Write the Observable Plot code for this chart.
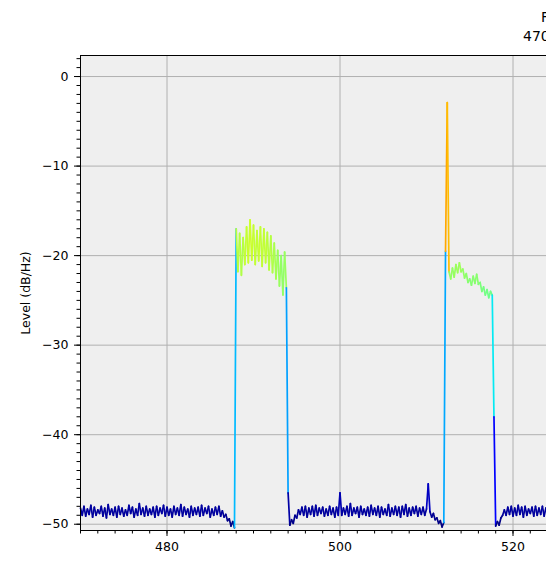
<!DOCTYPE html>
<html><head><meta charset="utf-8">
<script src="https://cdn.jsdelivr.net/npm/d3@7"></script>
<script src="https://cdn.jsdelivr.net/npm/@observablehq/plot@0.6"></script>
<style>
html,body{margin:0;padding:0;background:#fff;overflow:hidden;width:546px;height:564px;}
#wrap{position:relative;width:546px;height:564px;overflow:hidden;font-family:"DejaVu Sans",sans-serif;}
.t{position:absolute;font-size:14px;white-space:nowrap;color:#000;line-height:17px;}
#chart{position:absolute;left:0;top:0;width:800px;height:564px;}
#chart svg{max-width:none !important;}
</style></head><body>
<div id="wrap">
<div id="chart"></div>
<div class="t" id="t1" style="left:541px;top:9px"></div>
<div class="t" id="t2" style="left:523px;top:28px"></div>
</div>
<script>
const titleLines = ["Frequency scan", "470–862 MHz"];
const yLabel = "Level (dB/Hz)";
const xMajorTicks = [480, 500, 520, 540];
const yMajorTicks = [-50, -40, -30, -20, -10, 0];
const xDomain = [470, 550];
const yDomain = [-50.7, 2.35];
const colorDomain = [-50, 3];
const startMHz = 470, stepMHz = 0.2;

// spectrum samples (dB/Hz), one every 0.2 MHz from 470 MHz
const floorLeft = [
 -48.2,-49.0,-48.0,-49.1,-48.3,-48.9,-47.9,-49.2,-48.1,-49.0,
 -48.4,-48.8,-48.0,-49.1,-48.2,-49.3,-47.8,-48.9,-48.3,-49.0,
 -48.1,-49.2,-48.0,-48.9,-48.2,-49.1,-48.4,-49.0,-47.9,-48.8,
 -48.1,-49.2,-48.3,-49.0,-47.7,-48.9,-48.2,-49.1,-48.0,-49.0,
 -48.3,-48.9,-48.1,-49.2,-48.0,-49.0,-48.2,-48.8,-47.9,-49.1,
 -48.1,-49.0,-48.3,-49.2,-48.0,-48.9,-48.2,-49.0,-47.8,-49.1,
 -48.1,-48.9,-48.3,-49.2,-48.0,-49.0,-48.2,-48.9,-48.1,-49.1,
 -47.9,-49.0,-48.2,-48.8,-48.0,-49.2,-48.3,-49.0,-48.1,-48.9,
 -48.0,-49.1,
 -48.5,-49.2,-48.9,-49.6,-49.4,-50.2,-49.7,-50.4
];
const channel488 = [
 -17.0,-21.8,-17.5,-22.2,-18.0,-21.0,-16.8,-20.8,-16.0,-20.5,
 -16.6,-21.0,-17.2,-20.6,-16.8,-21.2,-17.0,-20.8,-17.4,-21.6,
 -17.8,-21.9,-18.6,-22.6,-19.4,-23.4,-20.0,-24.4,-19.6,-23.6,
 -46.5,-50.1,-49.5,-49.9,-49.0,-49.3,-48.4
];
const floorMid = [
 -48.9,-48.1,-49.0,-48.0,-49.2,-48.2,-48.9,-48.0,-49.1,-47.9,
 -49.0,-48.2,-48.8,-48.1,-49.1,-48.3,-49.0,-48.0,-48.9,-48.2,
 -49.2,-48.1,-49.0,
 -46.5,
 -49.0,-48.2,-48.9,-48.0,-49.1,-47.7,-49.0,-48.2,-48.8,-48.1,
 -49.2,-48.0,-48.9,-48.3,-49.0,-48.1,-49.1,-47.9,-48.9,-48.2,
 -49.0,-48.0,-49.2,-48.1,-48.9,-48.3,-49.0,-47.8,-49.1,-48.2,
 -48.9,-48.0,-49.0,-48.1,-49.2,-48.0,-48.9,-47.8,-49.1,-48.2,
 -49.0,-48.1,-48.8,-48.0,-49.1,-48.2,-48.9,-48.1,-49.0,-48.3,
 -45.5,
 -48.6,-49.2,-48.8,-49.5,-49.3,-49.9,-49.6,-50.3,-49.8
];
const channel512 = [
 -19.5, -2.9,
 -21.8,-22.6,-21.4,-22.4,-21.0,-21.9,-20.8,-21.8,-21.5,-22.5,
 -22.0,-23.0,-22.6,-23.3,-22.3,-23.1,-22.1,-23.2,-23.0,-24.0,
 -23.5,-24.4,-23.8,-24.7,-24.0,
 -24.4,-38.0,-50.2,-49.7,-50.1,-49.3,-49.0,-48.4
];
const floorRight = [
 -49.0,-48.1,-48.9,-48.0,-49.1,-48.2,-49.0,-47.9,-48.9,-48.1,
 -49.2,-48.0,-49.0,-48.3,-48.8,-48.1,-49.1,-48.0,-49.0,-48.2,
 -48.9,-48.0,-49.1,-48.2,-49.0,-47.9,-48.9,-48.1,-49.0,-48.2,
 -49.1,-48.0,-48.9,-48.2,-49.0
];
const levels = [...floorLeft, ...channel488, ...floorMid, ...channel512, ...floorRight];

// matplotlib "jet" colormap
const jetR = d3.scaleLinear([0, 0.35, 0.66, 0.89, 1], [0, 0, 1, 1, 0.5]).clamp(true);
const jetG = d3.scaleLinear([0, 0.125, 0.375, 0.64, 0.91, 1], [0, 0, 1, 1, 0, 0]).clamp(true);
const jetB = d3.scaleLinear([0, 0.11, 0.34, 0.65, 1], [0.5, 1, 1, 0, 0]).clamp(true);
const jet = t => d3.rgb(255 * jetR(t), 255 * jetG(t), 255 * jetB(t)).formatHex();

document.getElementById("t1").textContent = titleLines[0];
document.getElementById("t2").textContent = titleLines[1];

const trace = levels.map((L, i) => ({f: startMHz + i * stepMHz, L}));
// one segment between consecutive samples, coloured by its mean level
const segments = trace.slice(1).map((p, i) => ({f1: trace[i].f, L1: trace[i].L, f2: p.f, L2: p.L, c: (trace[i].L + p.L) / 2}));
const xMinor = d3.range(xDomain[0], xDomain[1] + 0.001, 2);
const yMinor = d3.range(-50, 3, 1);

const chart = Plot.plot({
  width: 800, height: 564,
  marginLeft: 80, marginRight: 28, marginTop: 55, marginBottom: 34,
  style: {fontFamily: '"DejaVu Sans", sans-serif', fontSize: "12.5px", color: "#000", background: "transparent", overflow: "visible", maxWidth: "none"},
  x: {domain: xDomain},
  y: {domain: yDomain},
  color: {type: "linear", domain: colorDomain, interpolate: jet, clamp: true},
  marks: [
    Plot.frame({fill: "#efefef", stroke: "none"}),
    Plot.gridX(xMajorTicks, {stroke: "#b0b0b0", strokeOpacity: 1, strokeWidth: 1}),
    Plot.gridY(yMajorTicks, {stroke: "#b0b0b0", strokeOpacity: 1, strokeWidth: 1}),
    Plot.link(segments, {x1: "f1", y1: "L1", x2: "f2", y2: "L2", stroke: "c", strokeWidth: 1.7, strokeLinecap: "round"}),
    Plot.frame({stroke: "#000", strokeWidth: 1}),
    Plot.axisX(xMajorTicks, {tickSize: 6, tickPadding: 6, label: null}),
    Plot.axisX(xMinor, {tickSize: 3.5, tickFormat: () => "", label: null}),
    Plot.axisY(yMajorTicks, {tickSize: 6, tickPadding: 6, label: null}),
    Plot.axisY(yMinor, {tickSize: 3.5, tickFormat: () => "", label: null}),
    Plot.text([yLabel], {text: d => d, frameAnchor: "left", textAnchor: "middle", dx: -55, rotate: -90, fontSize: 12.5})
  ]
});
chart.style.maxWidth = "none";
document.getElementById("chart").appendChild(chart);
</script>
</body></html>
